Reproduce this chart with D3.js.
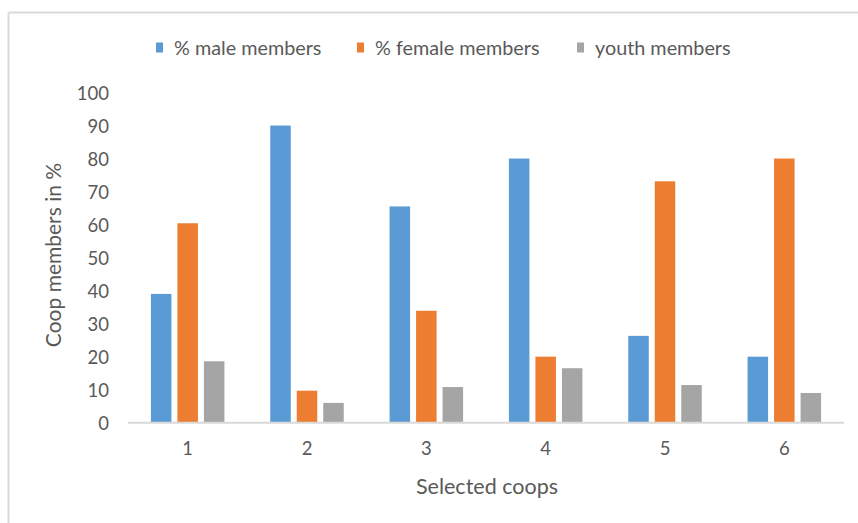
<!DOCTYPE html>
<html>
<head>
<meta charset="utf-8">
<script src="https://cdn.jsdelivr.net/npm/d3@7"></script>
<style>
  html, body { margin: 0; padding: 0; background: #fff; }
  svg text { font-family: "Lato", "Open Sans", sans-serif; fill: #595959; }
</style>
</head>
<body>
<svg id="chart" width="858" height="523"></svg>
<script>
// Coop membership shares per selected coop
const coops = ["1", "2", "3", "4", "5", "6"];
const seriesNames = ["% male members", "% female members", "youth members"];
const maleValues = [39, 90, 65.5, 80, 26.3, 20];
const femaleValues = [60.4, 9.7, 33.9, 20, 73.1, 80];
const youthValues = [18.6, 6, 10.8, 16.5, 11.4, 9];
const yTicks = [0, 10, 20, 30, 40, 50, 60, 70, 80, 90, 100];
const colors = ["#5b9bd5", "#ed7d31", "#a5a5a5"];

const seriesValues = [maleValues, femaleValues, youthValues];
const rows = coops.map((c, i) => ({
  coop: c,
  values: seriesNames.map((s, k) => ({ series: s, value: seriesValues[k][i], k }))
}));

const svg = d3.select("#chart");

// chart frame (top and left edges only)
svg.append("line").attr("x1", 8.5).attr("x2", 858).attr("y1", 12.5).attr("y2", 12.5)
  .attr("stroke", "#d9d9d9").attr("stroke-width", 2);
svg.append("line").attr("x1", 8.5).attr("x2", 8.5).attr("y1", 12.5).attr("y2", 523)
  .attr("stroke", "#d9d9d9").attr("stroke-width", 2);

const plot = { left: 128, right: 844, top: 92.5, bottom: 422.7 };

const x0 = d3.scaleBand().domain(coops).range([plot.left, plot.right])
  .paddingInner(0.384).paddingOuter(0.192);
const x1 = d3.scaleBand().domain(seriesNames).range([0, x0.bandwidth()])
  .paddingInner(0.226).paddingOuter(0);
const y = d3.scaleLinear().domain([0, 100]).range([plot.bottom, plot.top]);

// bars
const groups = svg.append("g").selectAll("g").data(rows).join("g")
  .attr("transform", d => `translate(${x0(d.coop)},0)`);
groups.selectAll("rect").data(d => d.values).join("rect")
  .attr("x", d => x1(d.series))
  .attr("width", x1.bandwidth())
  .attr("y", d => y(d.value))
  .attr("height", d => y(0) - y(d.value))
  .attr("fill", d => colors[d.k]);

// y axis labels (no axis line)
const yAxis = svg.append("g").attr("transform", `translate(${plot.left - 19},0)`)
  .call(d3.axisLeft(y).tickValues(yTicks).tickSize(0).tickPadding(0));
yAxis.select(".domain").remove();
yAxis.selectAll("text").attr("font-size", 18.5).attr("dy", "0.36em")
  .style("font-family", "Lato, 'Open Sans', sans-serif").attr("fill", "#595959");

// x axis baseline and labels
svg.append("line").attr("x1", plot.left).attr("x2", plot.right)
  .attr("y1", y(0)).attr("y2", y(0)).attr("stroke", "#d9d9d9").attr("stroke-width", 2);
const xAxis = svg.append("g").attr("transform", `translate(0,${y(0)})`)
  .call(d3.axisBottom(x0).tickSize(0).tickPadding(19));
xAxis.select(".domain").remove();
xAxis.selectAll("text").attr("font-size", 18.5)
  .style("font-family", "Lato, 'Open Sans', sans-serif").attr("fill", "#595959");

// axis titles
svg.append("text").attr("x", 487).attr("y", 494).attr("text-anchor", "middle")
  .attr("font-size", 21.5).text("Selected coops");
svg.append("text").attr("transform", "translate(61,255) rotate(-90)")
  .attr("text-anchor", "middle").attr("font-size", 21).text("Coop members in %");

// legend
const legendX = [156, 357, 577];
const legend = svg.append("g").selectAll("g").data(seriesNames).join("g")
  .attr("transform", (d, i) => `translate(${legendX[i]},42.5)`);
legend.append("rect").attr("width", 7).attr("height", 10).attr("fill", (d, i) => colors[i]);
legend.append("text").attr("x", 18).attr("y", 5).attr("dy", "0.36em")
  .attr("font-size", 19.8).text(d => d);
</script>
</body>
</html>
